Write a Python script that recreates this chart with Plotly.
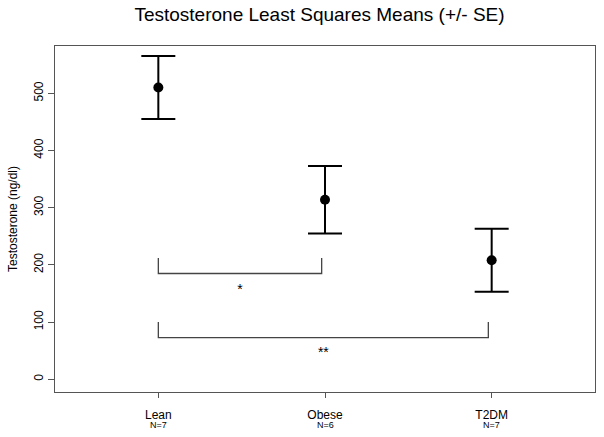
import plotly.graph_objects as go

groups = ["Lean", "Obese", "T2DM"]
n_sizes = [7, 6, 7]
means = [510, 314, 208]
se = [55, 59, 55]

# significance brackets
bracket_x0 = [1.0, 1.0]
bracket_x1 = [1.98, 2.98]
bracket_y = [185, 73]
bracket_top = [212, 100]
bracket_label = ["*", "**"]
label_y = [155, 45]

xpos = list(range(1, len(groups) + 1))
FONT = "Liberation Sans, Arial"

fig = go.Figure()

fig.add_trace(go.Scatter(
    x=xpos, y=means, mode="markers",
    marker=dict(color="black", size=10),
    error_y=dict(type="data", array=se, visible=True, color="black",
                 thickness=2, width=17),
    showlegend=False, hoverinfo="skip"))

for x0, x1, yb, yt, lab, ly in zip(bracket_x0, bracket_x1, bracket_y,
                                   bracket_top, bracket_label, label_y):
    fig.add_trace(go.Scatter(
        x=[x0, x0, x1, x1], y=[yt, yb, yb, yt], mode="lines",
        line=dict(color="#444444", width=1.3),
        showlegend=False, hoverinfo="skip"))
    fig.add_trace(go.Scatter(
        x=[(x0 + x1) / 2], y=[ly], mode="text", text=[lab],
        textfont=dict(size=14, color="black", family=FONT),
        showlegend=False, hoverinfo="skip"))

# sample-size labels under category names
for x, n in zip(xpos, n_sizes):
    fig.add_annotation(x=x, xref="x", y=-0.095, yref="paper",
                       text=f"N={n}", showarrow=False,
                       font=dict(size=9, color="black", family=FONT),
                       yanchor="middle")

fig.update_layout(
    width=604, height=437,
    margin=dict(l=55, r=9, t=46, b=45),
    paper_bgcolor="white", plot_bgcolor="white",
    font=dict(family=FONT, color="black", size=12),
    title=dict(text="Testosterone Least Squares Means (+/- SE)",
               x=0.529, xanchor="center", y=0.967, yanchor="middle",
               font=dict(size=19, color="black")),
    xaxis=dict(range=[0.38, 3.62], tickvals=xpos, ticktext=groups,
               automargin=False, ticklabelstandoff=6,
               showgrid=False, zeroline=False, showline=True, mirror=True,
               linecolor="#555555", linewidth=1.2,
               ticks="outside", ticklen=5, tickcolor="#555555",
               tickfont=dict(size=12)),
    yaxis=dict(range=[-22.2, 582.7], tickvals=[0, 100, 200, 300, 400, 500],
               automargin=False,
               tickangle=-90, showgrid=False, zeroline=False, showline=True,
               mirror=True, linecolor="#555555", linewidth=1.2,
               ticks="outside", ticklen=6, tickcolor="#555555",
               tickfont=dict(size=12),
               title=dict(text="Testosterone (ng/dl)", font=dict(size=12),
                          standoff=11)),
)

fig.write_html("out.html",
               config={"displayModeBar": False},
               post_script="document.body.style.margin='0';")
